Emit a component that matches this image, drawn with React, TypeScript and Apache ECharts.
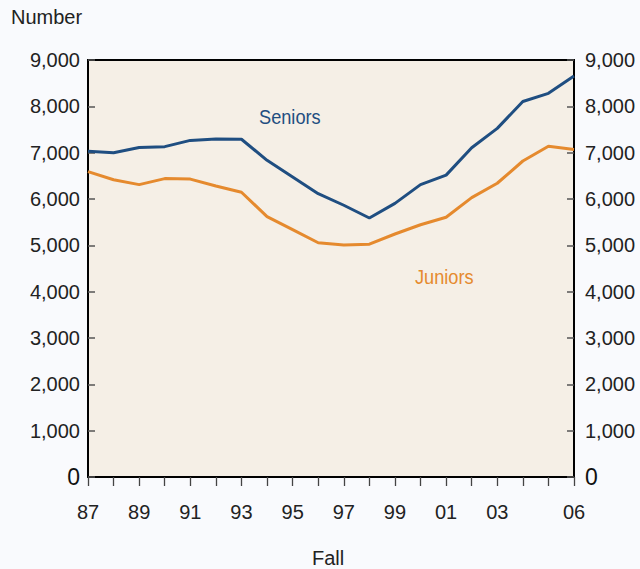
import React, { useEffect, useRef } from "react";
import * as echarts from "echarts";

const years = ["87","88","89","90","91","92","93","94","95","96","97","98","99","00","01","02","03","04","05","06"];
const shownLabels = ["87","89","91","93","95","97","99","01","03","06"];
const seniors = [7030,7000,7110,7130,7265,7295,7290,6835,6475,6115,5865,5590,5905,6310,6515,7105,7525,8105,8280,8655];
const juniors = [6590,6415,6310,6440,6430,6280,6145,5620,5340,5055,5005,5025,5245,5445,5605,6030,6340,6820,7140,7070];
const yTicks = { min: 0, max: 9000, interval: 1000 };

const FONT = "Liberation Sans, Arial, sans-serif";

export default function App() {
  const ref = useRef<HTMLDivElement>(null);
  useEffect(() => {
    const chart = echarts.init(ref.current!, null, { renderer: "svg" });
    const fmt = (v: number) => (v === 0 ? "{z|0}" : v.toLocaleString("en-US"));
    const yAxisBase = (pos: "left" | "right") => ({
      type: "value",
      position: pos,
      min: yTicks.min,
      max: yTicks.max,
      interval: yTicks.interval,
      axisLine: { show: true, lineStyle: { color: "#000", width: 2 } },
      axisTick: { show: true, inside: true, length: 7, lineStyle: { color: "#555", width: 1.5 } },
      splitLine: { show: false },
      axisLabel: {
        formatter: fmt,
        fontSize: 20,
        color: "#222",
        fontFamily: FONT,
        margin: pos === "left" ? 8 : 11,
        rich: { z: { fontSize: 23, color: "#111", fontFamily: FONT } },
      },
    });
    chart.setOption({
      animation: false,
      backgroundColor: "#f9fafd",
      grid: {
        left: 88,
        right: 66,
        top: 60,
        bottom: 92,
        show: true,
        backgroundColor: "#f5efe6",
        borderColor: "#000",
        borderWidth: 2,
      },
      xAxis: {
        type: "category",
        data: years,
        boundaryGap: false,
        axisLine: { show: true, lineStyle: { color: "#000", width: 2 } },
        axisTick: { show: true, inside: false, length: 9, interval: 0, lineStyle: { color: "#444", width: 1.3 } },
        axisLabel: {
          interval: (i: number, v: string) => shownLabels.includes(v),
          fontSize: 20,
          color: "#222",
          fontFamily: FONT,
          margin: 25,
        },
      },
      yAxis: [yAxisBase("left"), yAxisBase("right")],
      series: [
        {
          name: "Seniors",
          type: "line",
          data: seniors,
          symbol: "none",
          lineStyle: { color: "#1f4e81", width: 3 },
        },
        {
          name: "Juniors",
          type: "line",
          data: juniors,
          symbol: "none",
          lineStyle: { color: "#e58a2e", width: 3 },
        },
      ],
      graphic: [
        { type: "text", left: 11, top: 7, style: { text: "Number", fontSize: 20, fill: "#222", fontFamily: FONT } },
        { type: "text", left: 312, top: 548, style: { text: "Fall", fontSize: 20, fill: "#222", fontFamily: FONT } },
        { type: "text", x: 259, y: 107, scaleX: 0.91, style: { text: "Seniors", fontSize: 20, fill: "#1f4e81", fontFamily: FONT } },
        { type: "text", x: 415, y: 267, scaleX: 0.91, style: { text: "Juniors", fontSize: 20, fill: "#e58a2e", fontFamily: FONT } },
      ],
    });
    return () => chart.dispose();
  }, []);
  return <div ref={ref} style={{ position: "absolute", left: 0, top: 0, width: 640, height: 569 }} />;
}
